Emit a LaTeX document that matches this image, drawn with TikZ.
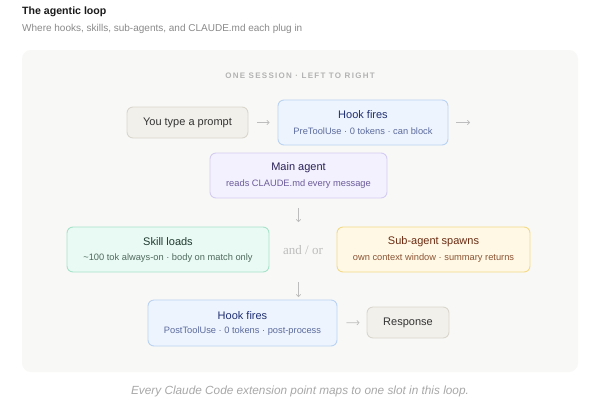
\documentclass[tikz,border=0pt]{standalone}
\usepackage{fontspec}
\setmainfont{Liberation Sans}
\newfontfamily\serifx{Liberation Serif}
\usetikzlibrary{arrows.meta}
\definecolor{panelfill}{HTML}{F8F8F6}
\definecolor{promptfill}{HTML}{F2F0EB}
\definecolor{promptdraw}{HTML}{D9D6CE}
\definecolor{hookfill}{HTML}{EEF4FD}
\definecolor{hookdraw}{HTML}{B9D3F3}
\definecolor{hooktitle}{HTML}{1F2F73}
\definecolor{hooksub}{HTML}{5B6B9E}
\definecolor{mainfill}{HTML}{F3F1FD}
\definecolor{maindraw}{HTML}{D5CCF2}
\definecolor{maintitle}{HTML}{2B2159}
\definecolor{mainsub}{HTML}{6B5B9B}
\definecolor{skillfill}{HTML}{E9F9F3}
\definecolor{skilldraw}{HTML}{A6E3CB}
\definecolor{skilltitle}{HTML}{1F3B30}
\definecolor{skillsub}{HTML}{4F6B5F}
\definecolor{subfill}{HTML}{FFF8E5}
\definecolor{subdraw}{HTML}{F3DA8A}
\definecolor{subtitle}{HTML}{6B2B12}
\definecolor{subsub}{HTML}{8C5434}
\definecolor{arrowgray}{HTML}{BDBDBD}
\definecolor{headgray}{HTML}{B3B3B3}
\definecolor{inkdark}{HTML}{1A1A1A}
\definecolor{inkgray}{HTML}{8A8A8A}
\definecolor{capgray}{HTML}{A8A8A8}
\definecolor{plaintext}{HTML}{333333}
\begin{document}
\begin{tikzpicture}[x=1pt,y=-1pt,
  box/.style={draw, rounded corners=6pt, line width=0.9pt, inner sep=0pt},
  ttl/.style={font=\fontsize{11}{13}\selectfont, inner sep=0pt},
  sbt/.style={font=\fontsize{9.3}{11}\selectfont, inner sep=0pt},
  arr/.style={draw=arrowgray, line width=0.7pt, -{Straight Barb[length=2.2pt,width=4.5pt]}}]
\useasboundingbox[fill=white] (0,0) rectangle (600,400);
% header
\node[anchor=west, inner sep=0pt, text=inkdark, font=\fontsize{10.6}{13}\selectfont\bfseries] (title) at (22,12) {The agentic loop};
\node[anchor=west, inner sep=0pt, text=inkgray, font=\fontsize{10}{12}\selectfont] (subt) at (22,29) {Where hooks, skills, sub-agents, and CLAUDE.md each plug in};
% panel
\node[fill=panelfill, rounded corners=9pt, minimum width=556pt, minimum height=322pt, inner sep=0pt] (panel) at (300,211) {};
\node[inner sep=0pt, text=headgray, font=\fontsize{8}{9}\selectfont\bfseries\addfontfeatures{LetterSpace=16}] (head) at (300,76) {ONE SESSION · LEFT TO RIGHT};
% row 1
\node[box, fill=promptfill, draw=promptdraw, minimum width=121pt, minimum height=31pt, text=plaintext, font=\fontsize{11}{13}\selectfont] (prompt) at (187.5,122.5) {You type a prompt};
\node[box, fill=hookfill, draw=hookdraw, minimum width=170pt, minimum height=45pt] (hookpre) at (363,122.5) {};
\node[ttl, text=hooktitle] (hookpreT) at ([yshift=7.5pt]hookpre.center) {Hook fires};
\node[sbt, text=hooksub] (hookpreS) at ([yshift=-8.5pt]hookpre.center) {PreToolUse · 0 tokens · can block};
% main agent
\node[box, fill=mainfill, draw=maindraw, minimum width=177pt, minimum height=45pt] (main) at (298.5,175.5) {};
\node[ttl, text=maintitle] (mainT) at ([yshift=7.5pt]main.center) {Main agent};
\node[sbt, text=mainsub] (mainS) at ([yshift=-8.5pt]main.center) {reads CLAUDE.md every message};
% row 3
\node[box, fill=skillfill, draw=skilldraw, minimum width=202pt, minimum height=45pt] (skill) at (168,249.5) {};
\node[ttl, text=skilltitle] (skillT) at ([yshift=7.5pt]skill.center) {Skill loads};
\node[sbt, text=skillsub] (skillS) at ([yshift=-8.5pt]skill.center) {\textasciitilde100 tok always-on · body on match only};
\node[inner sep=0pt, text=arrowgray, font=\serifx\fontsize{13}{15}\selectfont] (andor) at (303,250) {and / or};
\node[box, fill=subfill, draw=subdraw, minimum width=193pt, minimum height=45pt] (subag) at (433.5,249.5) {};
\node[ttl, text=subtitle] (subagT) at ([yshift=7.5pt]subag.center) {Sub-agent spawns};
\node[sbt, text=subsub] (subagS) at ([yshift=-8.5pt]subag.center) {own context window · summary returns};
% row 4
\node[box, fill=hookfill, draw=hookdraw, minimum width=189pt, minimum height=46pt] (hookpost) at (242.5,323) {};
\node[ttl, text=hooktitle] (hookpostT) at ([yshift=7.5pt]hookpost.center) {Hook fires};
\node[sbt, text=hooksub] (hookpostS) at ([yshift=-8.5pt]hookpost.center) {PostToolUse · 0 tokens · post-process};
\node[box, fill=promptfill, draw=promptdraw, minimum width=82pt, minimum height=31pt, text=plaintext, font=\fontsize{11}{13}\selectfont] (resp) at (408,322.5) {Response};
% arrows
\coordinate (outR) at (470,122.5);
\coordinate (down1) at (298.5,222);
\coordinate (down2a) at (298.5,282);
\coordinate (down2b) at (298.5,297);
\draw[arr, shorten <=9pt, shorten >=8pt] (prompt.east) -- (hookpre.west);
\draw[arr, shorten <=8pt] (hookpre.east) -- (outR);
\draw[arr, shorten <=10pt] (main.south) -- (down1);
\draw[arr] (down2a) -- (down2b);
\draw[arr, shorten <=9pt, shorten >=7pt] (hookpost.east) -- (resp.west);
% caption
\node[inner sep=0pt, text=capgray, font=\fontsize{11.8}{14}\selectfont\itshape] (cap) at (300,391) {Every Claude Code extension point maps to one slot in this loop.};
\end{tikzpicture}
\end{document}
